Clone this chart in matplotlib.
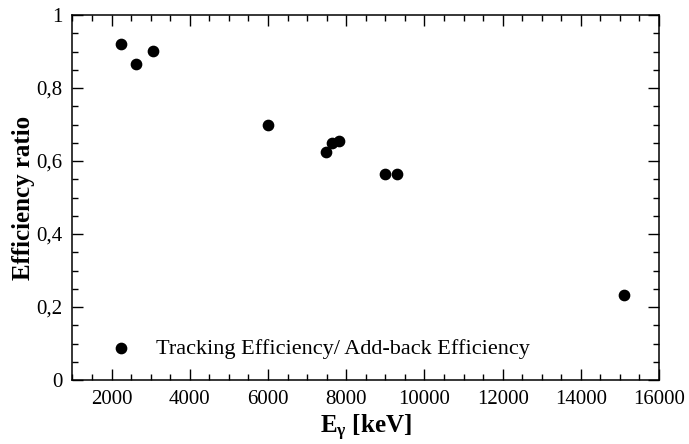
import matplotlib
matplotlib.use("Agg")
import matplotlib.pyplot as plt
from matplotlib.ticker import MultipleLocator, FuncFormatter

# energies [keV] and tracking / add-back efficiency ratio
energy = [2250, 2630, 3070, 6010, 7480, 7640, 7810, 8980, 9300, 15100]
ratio = [0.921, 0.866, 0.901, 0.699, 0.625, 0.650, 0.655, 0.564, 0.564, 0.234]

plt.rcParams["font.family"] = ["Liberation Serif", "DejaVu Serif"]
plt.rcParams["mathtext.fontset"] = "custom"
plt.rcParams["mathtext.rm"] = "Liberation Serif"
plt.rcParams["mathtext.it"] = "Liberation Serif"
plt.rcParams["mathtext.bf"] = "Liberation Serif:bold"

fig = plt.figure(figsize=(6.89, 4.44), dpi=100)
ax = fig.add_axes([0.1052, 0.1441, 0.8513, 0.8221])

ax.scatter(energy, ratio, s=55, color="black", zorder=3,
           label="Tracking Efficiency/ Add-back Efficiency")

ax.set_xlim(1000, 16000)
ax.set_ylim(0, 1)
ax.xaxis.set_major_locator(MultipleLocator(2000))
ax.xaxis.set_minor_locator(MultipleLocator(500))
ax.yaxis.set_major_locator(MultipleLocator(0.2))
ax.yaxis.set_minor_locator(MultipleLocator(0.05))
ax.yaxis.set_major_formatter(
    FuncFormatter(lambda v, p: ("%g" % round(v, 2)).replace(".", ",")))

ax.tick_params(which="both", direction="in", top=True, right=True,
               labelsize=15, width=1.0, pad=7)
ax.tick_params(which="major", length=8)
ax.tick_params(which="minor", length=4.5)
for s in ax.spines.values():
    s.set_linewidth(1.1)

ax.set_xlabel(r"$\mathbf{E_{\gamma}}$ [keV]", fontsize=18, fontweight="bold",
              labelpad=3)
ax.set_ylabel("Efficiency ratio", fontsize=18, fontweight="bold", labelpad=1)

ax.legend(loc="lower left", bbox_to_anchor=(0.01, 0.004), frameon=False,
          fontsize=16, handletextpad=0.6, scatterpoints=1)

fig.savefig("out.png", dpi=100)
